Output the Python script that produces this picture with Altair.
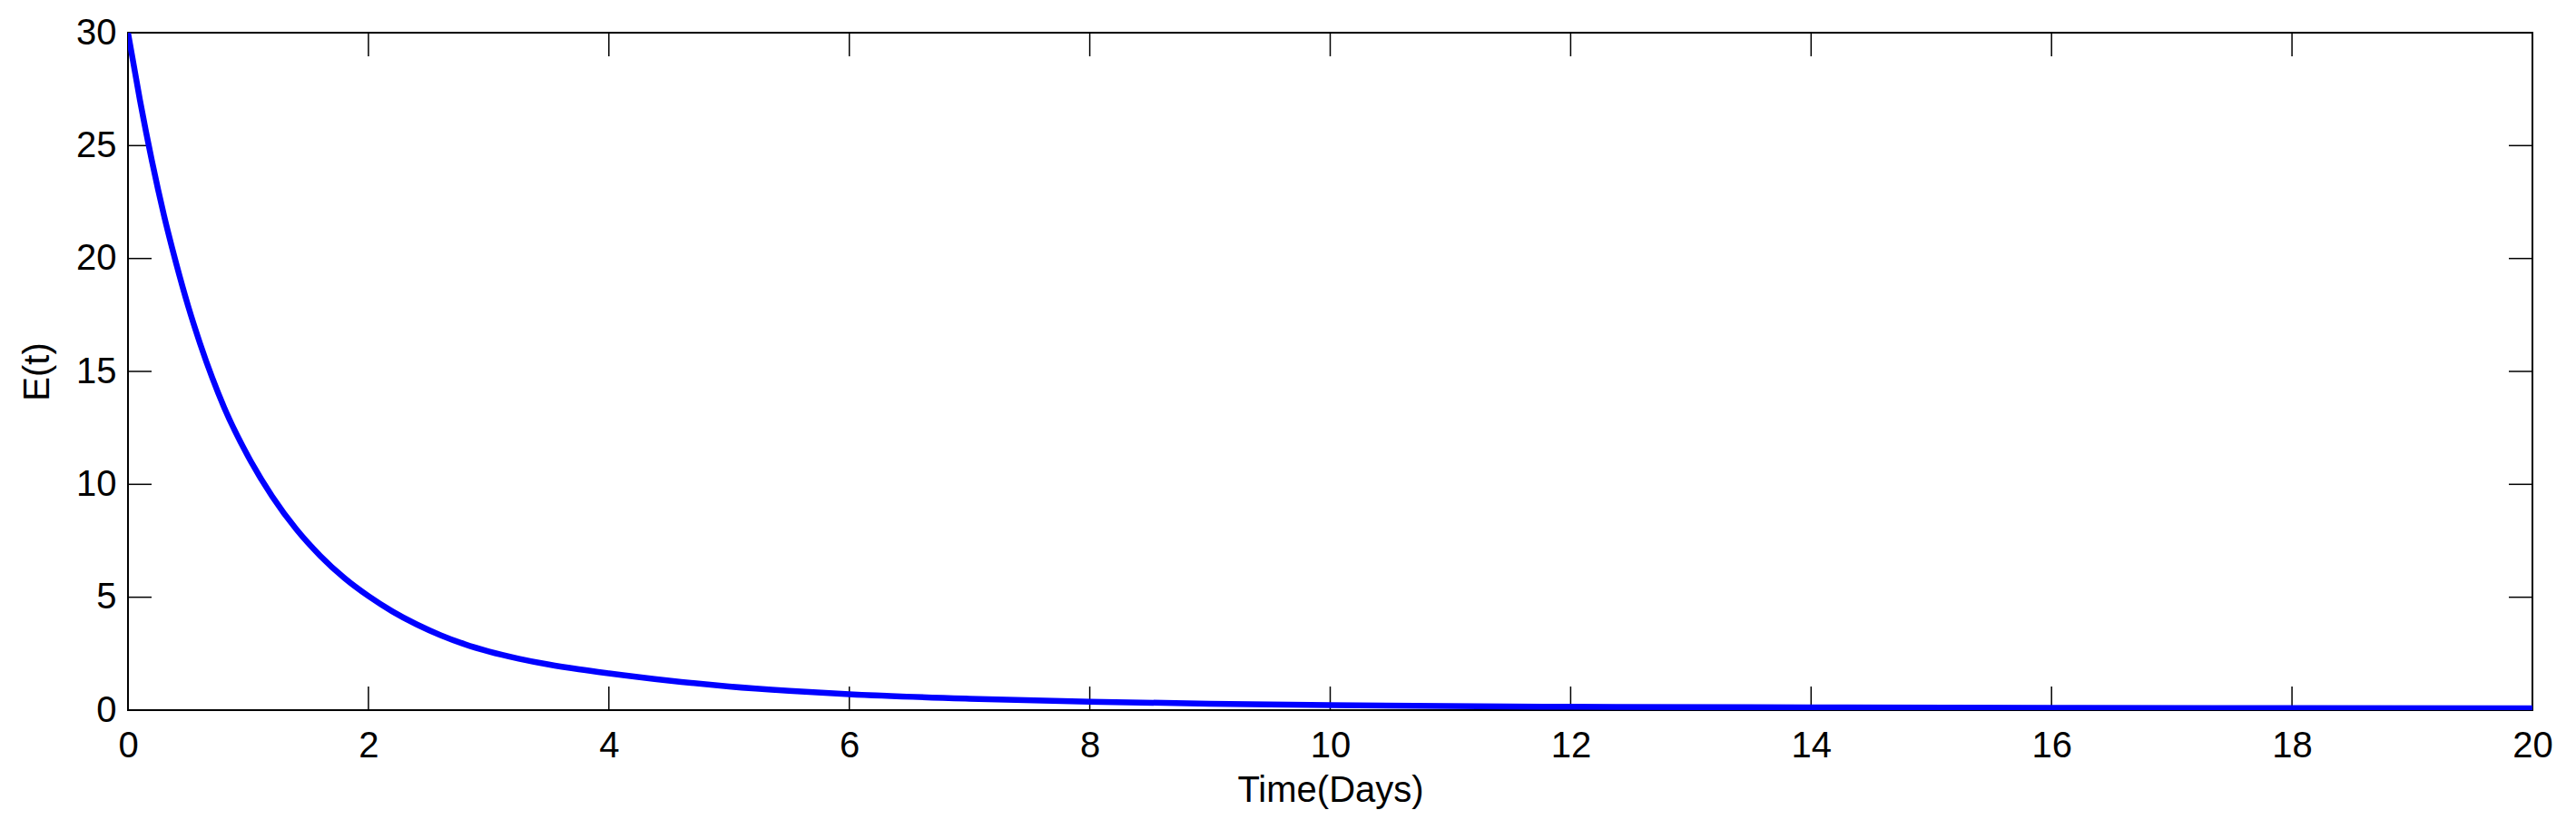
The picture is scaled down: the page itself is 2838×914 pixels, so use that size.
import altair as alt
import pandas as pd

# Data
time_days = [0, 0.1, 0.2, 0.3, 0.4, 0.5, 0.6, 0.7, 0.8, 1.0, 1.2, 1.4, 1.6,
             1.8, 2.0, 2.2, 2.4, 2.6, 2.8, 3.0, 3.25, 3.5, 3.75, 4.0, 4.5,
             5.0, 5.5, 6, 7, 8, 9, 10, 12, 14, 16, 18, 20]
e_values = [30, 27.0, 24.3, 21.9, 19.8, 17.9, 16.23, 14.73, 13.4, 11.23,
            9.46, 8.01, 6.83, 5.85, 5.05, 4.37, 3.80, 3.32, 2.92, 2.60, 2.28,
            2.02, 1.81, 1.63, 1.31, 1.05, 0.856, 0.704, 0.506, 0.375, 0.283,
            0.217, 0.15, 0.12, 0.10, 0.09, 0.08]
x_ticks = [0, 2, 4, 6, 8, 10, 12, 14, 16, 18, 20]
y_ticks = [0, 5, 10, 15, 20, 25, 30]

W, H = 2649, 746
TICK = 26
FONT = "Liberation Sans"

df = pd.DataFrame({"t": time_days, "E": e_values})
xt = pd.DataFrame({"v": x_ticks})
yt = pd.DataFrame({"v": y_ticks})

xscale = alt.Scale(domain=[0, 20], nice=False, zero=False)
yscale = alt.Scale(domain=[0, 30], nice=False)

x_axis = alt.Axis(values=x_ticks, labelPadding=19, labelFlush=False,
                  labelOverlap=False, titleY=100.7, titleBaseline="alphabetic")
y_axis = alt.Axis(values=y_ticks, labelPadding=13, labelFlush=False,
                  labelOverlap=False, labelBaseline="middle",
                  titleX=-88, titleBaseline="alphabetic", titleAlign="center")

X_TITLE = "Time(Days)"
Y_TITLE = "E(t)"

tick_style = dict(color="black", strokeWidth=1.5)

bottom_ticks = alt.Chart(xt).mark_rule(**tick_style).encode(
    x=alt.X("v:Q", scale=xscale, axis=x_axis, title=X_TITLE),
    y=alt.value(H), y2=alt.value(H - TICK))
top_ticks = alt.Chart(xt).mark_rule(**tick_style).encode(
    x=alt.X("v:Q", scale=xscale, axis=x_axis, title=X_TITLE),
    y=alt.value(0), y2=alt.value(TICK))
left_ticks = alt.Chart(yt).mark_rule(**tick_style).encode(
    y=alt.Y("v:Q", scale=yscale, axis=y_axis, title=Y_TITLE),
    x=alt.value(0), x2=alt.value(TICK))
right_ticks = alt.Chart(yt).mark_rule(**tick_style).encode(
    y=alt.Y("v:Q", scale=yscale, axis=y_axis, title=Y_TITLE),
    x=alt.value(W), x2=alt.value(W - TICK))

line = alt.Chart(df).mark_line(color="#0000FF", strokeWidth=6.5,
                               interpolate="monotone", clip=True).encode(
    x=alt.X("t:Q", scale=xscale, axis=x_axis, title=X_TITLE),
    y=alt.Y("E:Q", scale=yscale, axis=y_axis, title=Y_TITLE),
)

chart = alt.layer(bottom_ticks, top_ticks, left_ticks, right_ticks, line).properties(
    width=W, height=H,
    autosize=alt.AutoSizeParams(type="none"),
    padding={"left": 133, "top": 28, "right": 40, "bottom": 120},
    background="white",
).configure_view(
    stroke="black", strokeWidth=2
).configure_axis(
    domain=False, grid=False, ticks=False, tickSize=0,
    labelFont=FONT, labelFontSize=40, labelColor="black",
    titleFont=FONT, titleFontSize=40, titleFontWeight="normal", titleColor="black",
)

chart.save("out.html", embed_options={"renderer": "svg", "actions": False})
